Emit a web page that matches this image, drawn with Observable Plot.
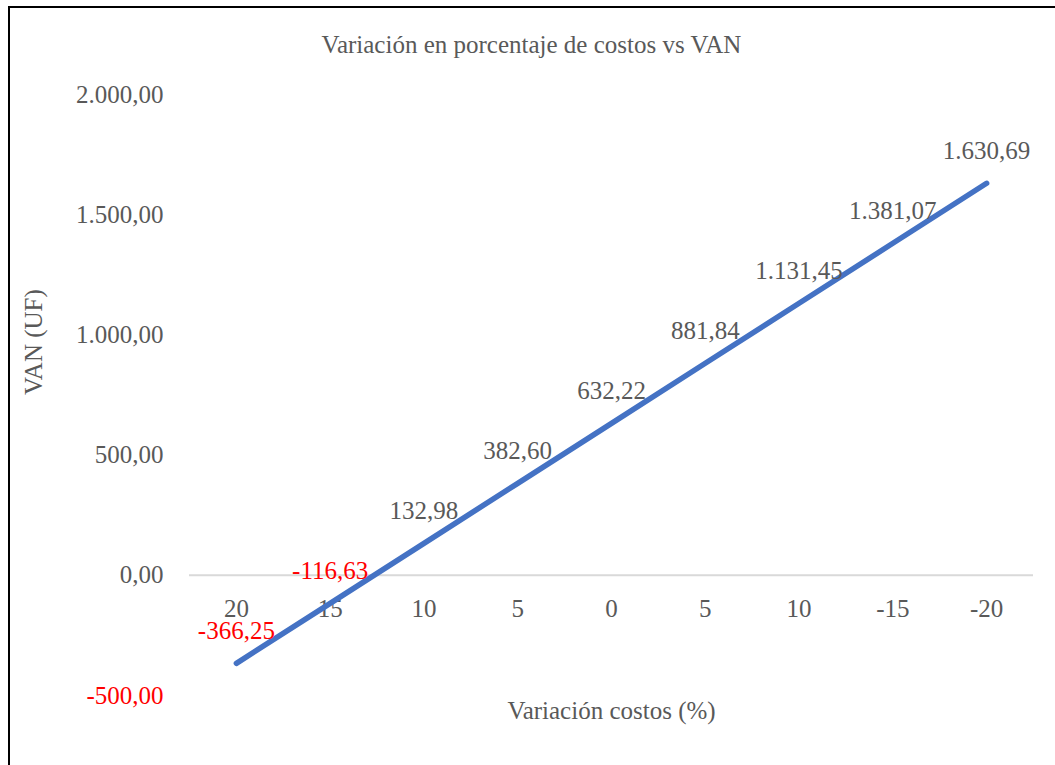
<!DOCTYPE html>
<html>
<head>
<meta charset="utf-8">
<script src="https://cdn.jsdelivr.net/npm/d3@7"></script>
<script src="https://cdn.jsdelivr.net/npm/@observablehq/plot@0.6"></script>
<style>
  html, body { margin: 0; padding: 0; background: #fff; }
  body { width: 1055px; height: 765px; overflow: hidden; position: relative; font-family: "Liberation Serif", "Times New Roman", serif; }
  #frame { position: absolute; left: 8px; top: 6px; width: 1047px; height: 759px; border-left: 2px solid #000; border-top: 2px solid #000; box-sizing: border-box; }
  #title { position: absolute; left: 0; top: 30px; width: 1063px; text-align: center; font-size: 25px; line-height: 30px; color: #595959; }
  #chart { position: absolute; left: 0; top: 60px; }
</style>
</head>
<body>
<div id="frame"></div>
<div id="title">Variación en porcentaje de costos vs VAN</div>
<div id="chart"></div>
<script>
const xLabels = ["20", "15", "10", "5", "0", "5", "10", "-15", "-20"];
const vanValues = [-366.25, -116.63, 132.98, 382.60, 632.22, 881.84, 1131.45, 1381.07, 1630.69];
const yTicks = [-500, 0, 500, 1000, 1500, 2000];
const xTitle = "Variación costos (%)";
const yTitle = "VAN (UF)";

const locale = d3.formatLocale({decimal: ",", thousands: ".", grouping: [3], currency: ["", ""], minus: "-"});
const fmt = locale.format(",.2f");

const idx = xLabels.map((_, i) => i);
const data = idx.map(i => ({i, label: xLabels[i], v: vanValues[i]}));

const gray = "#595959";
const red = "#ff0000";

const plot = Plot.plot({
  width: 1055,
  height: 705,
  marginLeft: 189,
  marginRight: 22,
  marginTop: 34,
  marginBottom: 70,
  style: {fontFamily: "'Liberation Serif', 'Times New Roman', serif", fontSize: "25px", background: "transparent"},
  x: {type: "point", domain: idx, padding: 0.5, round: false, axis: null},
  y: {domain: [-500, 2000], axis: null},
  marks: [
    Plot.ruleY([0], {stroke: "#d9d9d9", strokeWidth: 2}),
    Plot.text(yTicks, {y: d => d, frameAnchor: "left", textAnchor: "end", dx: -26, text: d => fmt(d), fill: d => d < 0 ? red : gray, fontSize: 25}),
    Plot.text(data, {x: "i", y: () => 0, dy: 34, text: "label", fill: gray, fontSize: 25}),
    Plot.line(data, {x: "i", y: "v", stroke: "#4472C4", strokeWidth: 5.5, strokeLinecap: "round"}),
    Plot.text(data, {x: "i", y: "v", dy: -32, text: d => fmt(d.v), fill: d => d.v < 0 ? red : gray, fontSize: 25}),
    Plot.text([xTitle], {frameAnchor: "bottom", dy: 23, text: d => d, fill: gray, fontSize: 25}),
    Plot.text([yTitle], {frameAnchor: "left", dx: -156, rotate: -90, text: d => d, fill: gray, fontSize: 25})
  ]
});
document.getElementById("chart").appendChild(plot);
</script>
</body>
</html>
